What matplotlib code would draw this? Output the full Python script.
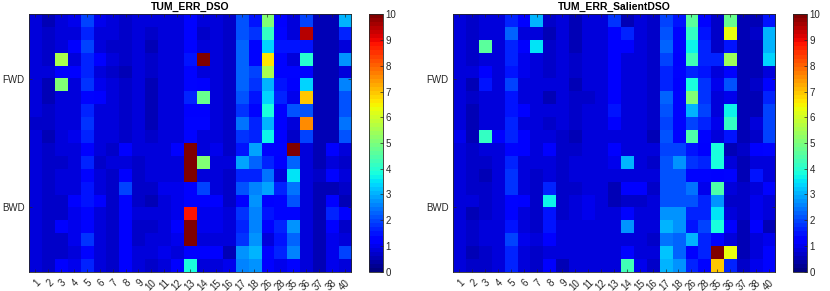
import numpy as np
import matplotlib
matplotlib.use('Agg')
import matplotlib.pyplot as plt

plt.rcParams['font.family'] = ['Liberation Sans', 'DejaVu Sans']

# sequence ids along x, direction groups along y
seq_labels = ['1', '2', '3', '4', '5', '6', '7', '8', '9', '10', '11', '12', '13',
              '14', '15', '16', '17', '18', '26', '28', '35', '36', '37', '38', '40']
row_labels = ['FWD', 'BWD']

# TUM_ERR_DSO (20 runs x 25 sequences)
err_dso = [
    [0.8, 0.6, 0.9, 1.0, 2.0, 1.0, 0.8, 0.7, 0.8, 0.8, 0.8, 0.9, 1.4, 0.9, 0.9, 0.7, 2.1, 1.5, 5.0, 1.2, 0.8, 2.0, 0.6, 0.6, 3.0],
    [0.8, 0.7, 0.8, 0.9, 1.6, 0.9, 0.8, 0.7, 0.8, 0.7, 0.8, 0.8, 1.3, 0.7, 0.8, 0.7, 2.1, 1.8, 4.2, 1.4, 0.8, 9.5, 0.6, 0.6, 1.6],
    [0.8, 0.7, 0.9, 1.2, 2.0, 0.9, 0.7, 0.7, 0.8, 0.5, 0.8, 0.8, 1.3, 0.9, 0.8, 0.7, 2.3, 1.4, 3.4, 1.5, 1.5, 1.5, 0.6, 0.6, 0.9],
    [0.8, 0.7, 5.6, 0.9, 1.6, 1.2, 0.8, 0.7, 0.8, 0.7, 0.8, 0.9, 1.5, 10.0, 0.8, 0.7, 2.2, 1.4, 6.6, 1.4, 0.9, 4.0, 0.6, 0.6, 2.7],
    [0.8, 0.8, 1.2, 1.2, 1.6, 0.9, 0.7, 0.5, 0.8, 0.7, 0.8, 0.9, 1.4, 0.8, 0.8, 0.7, 2.3, 1.9, 5.5, 1.3, 1.3, 1.3, 0.6, 0.6, 0.8],
    [0.8, 0.6, 5.0, 0.9, 1.8, 1.0, 0.8, 0.7, 0.8, 0.6, 0.8, 0.8, 1.3, 1.2, 0.8, 0.7, 2.2, 1.8, 3.1, 1.5, 1.2, 3.4, 0.6, 0.6, 2.6],
    [0.8, 0.6, 0.9, 0.9, 1.4, 1.2, 0.8, 0.7, 0.8, 0.6, 0.8, 0.9, 1.6, 4.8, 0.8, 0.7, 2.1, 1.5, 3.3, 1.6, 1.0, 6.9, 0.5, 0.6, 2.1],
    [0.8, 0.7, 0.9, 0.9, 1.6, 0.9, 0.8, 0.7, 0.8, 0.6, 0.8, 0.8, 1.2, 1.2, 0.8, 0.7, 1.8, 1.4, 3.8, 1.2, 2.1, 2.1, 0.6, 0.6, 2.1],
    [0.7, 0.7, 0.9, 0.9, 1.8, 0.8, 0.8, 0.7, 0.8, 0.5, 0.8, 0.8, 1.3, 1.3, 0.8, 0.7, 2.4, 1.6, 3.1, 1.2, 0.9, 7.6, 0.6, 0.6, 2.4],
    [0.8, 0.5, 0.9, 1.0, 1.6, 0.9, 0.8, 0.7, 0.8, 0.7, 0.8, 0.9, 1.4, 0.8, 0.9, 0.7, 1.8, 1.6, 3.7, 1.2, 0.7, 2.0, 0.6, 0.6, 2.1],
    [0.8, 0.7, 0.8, 0.9, 1.2, 0.9, 0.7, 1.1, 0.8, 0.9, 0.9, 1.1, 10.0, 0.8, 1.0, 0.7, 1.5, 2.9, 1.4, 1.4, 10.0, 0.8, 0.5, 1.1, 0.9],
    [0.9, 0.7, 0.7, 0.9, 1.7, 0.7, 0.8, 0.8, 0.7, 0.8, 0.8, 0.9, 10.0, 5.0, 0.9, 0.8, 2.9, 2.2, 1.6, 1.1, 2.3, 0.8, 0.6, 0.9, 0.7],
    [0.8, 0.7, 0.8, 0.9, 1.3, 0.8, 0.7, 1.1, 0.7, 0.8, 0.9, 0.9, 10.0, 0.8, 0.9, 0.7, 1.6, 1.7, 2.4, 0.9, 3.5, 0.8, 0.7, 1.4, 0.8],
    [0.8, 0.7, 0.8, 0.9, 1.5, 0.8, 0.7, 1.9, 0.7, 0.7, 1.0, 1.0, 1.1, 2.0, 0.9, 0.7, 2.1, 2.6, 2.9, 1.6, 2.4, 0.8, 0.6, 0.6, 0.7],
    [0.8, 0.7, 0.7, 1.1, 1.5, 1.1, 0.7, 1.4, 0.7, 0.6, 0.9, 1.0, 1.2, 1.1, 1.1, 0.7, 1.2, 2.7, 1.1, 1.3, 2.1, 0.8, 0.6, 1.1, 0.5],
    [0.8, 0.7, 0.7, 1.0, 1.3, 0.8, 0.7, 1.4, 0.8, 0.8, 0.9, 1.0, 8.8, 1.0, 1.0, 0.8, 1.8, 2.6, 1.5, 1.4, 1.4, 0.8, 0.5, 1.6, 1.1],
    [0.8, 0.7, 1.1, 1.0, 1.4, 0.8, 0.7, 1.2, 0.7, 0.7, 0.9, 1.1, 10.0, 1.0, 1.0, 0.8, 1.7, 2.5, 1.1, 1.6, 2.7, 0.8, 0.6, 1.2, 0.7],
    [0.8, 0.7, 0.7, 1.0, 1.8, 0.8, 0.7, 1.1, 0.7, 0.8, 0.9, 1.0, 10.0, 0.9, 0.9, 0.8, 1.8, 2.8, 0.9, 1.5, 2.2, 0.8, 0.6, 1.0, 0.8],
    [0.8, 0.7, 0.7, 0.9, 1.4, 0.8, 0.7, 1.2, 0.8, 0.9, 1.0, 0.9, 1.2, 1.1, 1.1, 0.5, 2.8, 3.0, 1.4, 1.7, 2.6, 0.8, 0.6, 1.0, 1.9],
    [0.8, 0.7, 1.1, 1.0, 1.6, 0.8, 0.7, 1.2, 0.8, 0.7, 0.9, 1.2, 3.8, 0.9, 0.9, 1.0, 2.6, 2.7, 1.2, 1.0, 1.4, 0.8, 0.6, 1.0, 0.8],
]

# TUM_ERR_SalientDSO
err_salient = [
    [0.9, 0.7, 0.8, 0.9, 1.6, 1.1, 3.1, 0.7, 0.8, 0.6, 0.9, 0.8, 1.8, 0.5, 0.8, 0.7, 1.9, 1.5, 4.6, 1.4, 0.7, 4.8, 0.6, 0.6, 1.5],
    [0.8, 0.7, 0.8, 0.9, 2.2, 0.9, 0.8, 0.6, 0.8, 0.6, 0.8, 0.9, 1.2, 1.6, 0.8, 0.7, 2.1, 1.4, 4.2, 1.5, 0.7, 6.4, 0.6, 0.7, 3.1],
    [0.8, 0.7, 4.6, 0.9, 1.7, 1.1, 3.5, 0.7, 0.8, 0.6, 0.8, 0.9, 1.2, 1.1, 0.8, 0.7, 2.3, 1.4, 3.7, 1.6, 0.7, 1.5, 0.6, 0.6, 3.0],
    [0.8, 0.7, 0.9, 0.8, 1.7, 1.0, 0.8, 0.7, 0.8, 0.7, 0.8, 0.8, 1.2, 0.8, 0.8, 0.7, 2.0, 1.2, 4.3, 1.7, 1.7, 5.4, 0.6, 0.6, 3.4],
    [0.8, 0.8, 1.2, 0.9, 1.5, 1.0, 0.8, 0.7, 0.8, 0.7, 0.8, 0.9, 1.2, 0.8, 0.9, 0.7, 1.7, 1.4, 1.7, 1.5, 0.8, 1.3, 0.6, 0.6, 0.9],
    [0.8, 0.6, 1.5, 0.8, 2.0, 0.9, 0.8, 0.8, 0.8, 0.6, 0.9, 0.9, 1.2, 0.9, 0.9, 0.7, 1.7, 1.2, 3.9, 1.8, 1.0, 2.1, 0.6, 0.7, 1.3],
    [0.8, 0.7, 0.8, 0.9, 1.5, 0.9, 0.8, 0.6, 0.8, 0.7, 0.7, 0.9, 1.2, 0.8, 0.8, 0.7, 2.2, 1.3, 5.0, 1.8, 0.9, 1.0, 0.6, 0.6, 1.6],
    [0.8, 0.6, 0.9, 0.9, 1.5, 1.2, 0.8, 0.8, 0.8, 0.7, 0.8, 0.9, 1.5, 0.8, 0.8, 0.7, 2.1, 1.4, 3.0, 1.9, 0.9, 3.7, 0.6, 0.6, 2.0],
    [0.8, 0.6, 0.8, 0.9, 1.7, 0.9, 0.8, 0.7, 0.8, 0.7, 0.8, 0.9, 1.2, 0.8, 0.9, 0.7, 2.0, 1.4, 2.0, 1.6, 1.0, 4.2, 0.6, 0.8, 2.0],
    [1.0, 0.6, 4.2, 1.2, 1.7, 1.1, 0.8, 0.8, 0.7, 0.6, 0.8, 0.9, 0.9, 0.8, 0.8, 0.6, 2.1, 1.4, 4.5, 1.4, 0.8, 1.5, 0.6, 0.7, 2.0],
    [0.8, 0.7, 0.9, 0.9, 1.4, 1.1, 0.8, 1.2, 0.7, 0.7, 0.9, 0.9, 1.1, 0.9, 0.9, 0.8, 2.0, 2.0, 1.5, 1.2, 3.9, 0.6, 0.7, 1.1, 1.4],
    [0.8, 0.7, 0.7, 0.9, 1.6, 0.8, 0.8, 0.9, 0.7, 0.8, 0.9, 0.9, 1.0, 3.0, 0.9, 0.7, 2.1, 2.7, 1.8, 1.6, 3.9, 0.9, 0.6, 0.9, 0.8],
    [0.8, 0.7, 0.6, 0.9, 1.8, 0.9, 0.7, 0.9, 0.7, 0.8, 0.9, 0.9, 0.9, 0.8, 0.9, 0.8, 2.1, 2.1, 1.4, 1.4, 1.2, 1.4, 0.6, 1.5, 0.8],
    [0.8, 0.7, 0.7, 0.8, 1.8, 0.8, 0.7, 1.7, 0.7, 0.7, 0.8, 0.9, 0.6, 1.2, 1.1, 0.7, 2.1, 2.1, 2.4, 1.0, 4.4, 0.8, 0.7, 0.9, 1.4],
    [0.8, 0.8, 0.7, 0.9, 1.4, 1.2, 0.7, 3.6, 0.7, 0.8, 1.0, 0.8, 0.6, 0.7, 0.7, 0.8, 2.1, 2.1, 2.1, 1.6, 2.8, 0.7, 0.7, 1.0, 0.9],
    [0.8, 0.6, 0.7, 0.9, 1.4, 0.8, 0.7, 1.5, 0.7, 0.8, 1.0, 0.9, 0.8, 1.3, 0.9, 0.8, 2.7, 2.8, 1.6, 1.6, 3.5, 0.9, 0.7, 1.0, 0.8],
    [0.8, 0.7, 0.9, 0.8, 1.5, 0.9, 0.7, 1.5, 0.8, 0.8, 0.9, 0.9, 0.9, 2.7, 0.8, 0.8, 3.1, 2.8, 1.5, 2.0, 3.8, 1.2, 0.6, 1.1, 0.5],
    [0.8, 0.7, 0.8, 0.9, 1.9, 1.0, 0.8, 1.1, 0.8, 0.8, 0.9, 0.9, 0.9, 0.9, 0.9, 0.7, 2.4, 2.3, 3.1, 1.6, 1.3, 0.8, 0.6, 0.9, 1.0],
    [0.8, 0.6, 0.7, 0.9, 1.7, 0.8, 0.7, 0.9, 0.8, 0.8, 0.9, 0.9, 0.9, 1.4, 0.8, 0.8, 3.2, 2.3, 1.2, 1.7, 10.0, 6.3, 0.6, 0.9, 1.4],
    [0.8, 0.7, 0.7, 0.9, 1.6, 0.9, 0.7, 1.1, 0.6, 0.8, 0.9, 0.9, 0.9, 4.3, 1.0, 0.7, 3.0, 2.7, 1.6, 1.3, 6.9, 1.6, 0.7, 1.0, 1.3],
]

titles = ['TUM_ERR_DSO', 'TUM_ERR_SalientDSO']

W, H = 830, 291
fig = plt.figure(figsize=(W / 100, H / 100), dpi=100)
cmap = plt.get_cmap('jet', 64)
edge = '#262626'


def draw_panel(data, title, x0, cx0):
    data = np.array(data)
    ax = fig.add_axes([x0 / W, 19.3 / H, 322 / W, 257.4 / H])
    im = ax.imshow(data, cmap=cmap, vmin=0, vmax=10, aspect='auto',
                   interpolation='nearest')
    ax.set_xticks(np.arange(len(seq_labels)))
    ax.set_xticklabels(seq_labels, rotation=45, ha='right', va='top',
                       rotation_mode='anchor')
    ax.set_yticks([4.5, 14.5])
    ax.set_yticklabels(row_labels)
    ax.tick_params(direction='in', length=2.5, width=0.5, labelsize=7,
                   top=True, right=True, colors=edge, pad=3)
    ax.tick_params(axis='x', pad=4)
    for s in ax.spines.values():
        s.set_color(edge)
        s.set_linewidth(0.6)
    ax.set_title(title, fontsize=7.5, fontweight='bold', pad=3)

    cax = fig.add_axes([cx0 / W, 19.3 / H, 14 / W, 257.4 / H])
    cb = fig.colorbar(im, cax=cax, ticks=range(11))
    cb.ax.tick_params(direction='in', length=2.5, width=0.5, labelsize=7,
                      colors=edge, pad=2)
    cb.outline.set_edgecolor(edge)
    cb.outline.set_linewidth(0.6)


draw_panel(err_dso, titles[0], 29, 369)
draw_panel(err_salient, titles[1], 453, 793)

fig.savefig('out.png', dpi=100)
